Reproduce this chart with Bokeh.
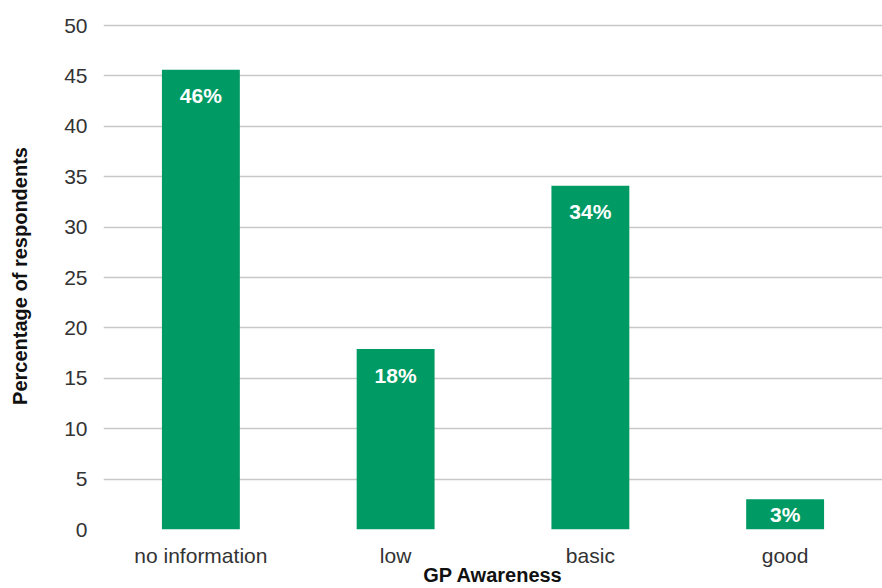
from bokeh.plotting import figure
from bokeh.models import Range1d, ColumnDataSource, FixedTicker
from bokeh.core.properties import value
from bokeh.embed import file_html
from bokeh.resources import INLINE

categories = ["no information", "low", "basic", "good"]
values = [45.6, 17.9, 34.1, 3.0]
labels = ["46%", "18%", "34%", "3%"]
y_ticks = [0, 5, 10, 15, 20, 25, 30, 35, 40, 45, 50]

W, H = 882, 588
left, right, top, bottom = 103, 0, 22, 59
plot_h = H - top - bottom
y_max = 50.3
px_per_unit = plot_h / y_max

offsets = [min(26.0, v * px_per_unit / 2.0) for v in values]
src = ColumnDataSource(dict(cat=categories, val=values, lab=labels, off=offsets))

p = figure(x_range=categories, y_range=Range1d(0, y_max), width=W, height=H,
           output_backend="svg", toolbar_location=None,
           min_border_left=left, min_border_right=right,
           min_border_top=top, min_border_bottom=bottom)
p.outline_line_color = None
p.background_fill_color = "white"
p.border_fill_color = "white"

p.vbar(x="cat", top="val", width=0.4, source=src, color="#009a64", line_color=None)
p.text(x="cat", y="val", text="lab", source=src, y_offset="off",
       text_align="center", text_baseline="middle", text_color="white",
       text_font=value("Liberation Sans"), text_font_style="bold",
       text_font_size="21px")

p.xgrid.grid_line_color = None
p.ygrid.grid_line_color = "#c8c8c8"
p.ygrid.grid_line_width = 1.5
p.yaxis.ticker = FixedTicker(ticks=y_ticks)

for ax in (p.xaxis[0], p.yaxis[0]):
    ax.axis_line_color = None
    ax.major_tick_line_color = None
    ax.minor_tick_line_color = None
    ax.major_label_text_font = "Liberation Sans"
    ax.major_label_text_font_size = "21px"
    ax.major_label_text_color = "#333333"
    ax.axis_label_text_font = "Liberation Sans"
    ax.axis_label_text_font_style = "bold"
    ax.axis_label_text_font_size = "20px"
    ax.axis_label_text_color = "#111111"

p.yaxis.axis_label = "Percentage of respondents"
p.xaxis.axis_label = "GP Awareness"
p.yaxis.major_label_standoff = 10
p.xaxis.major_label_standoff = 8
p.xaxis.axis_label_standoff = -6
p.yaxis.axis_label_standoff = 30

open("out.html", "w").write(file_html(p, INLINE))
